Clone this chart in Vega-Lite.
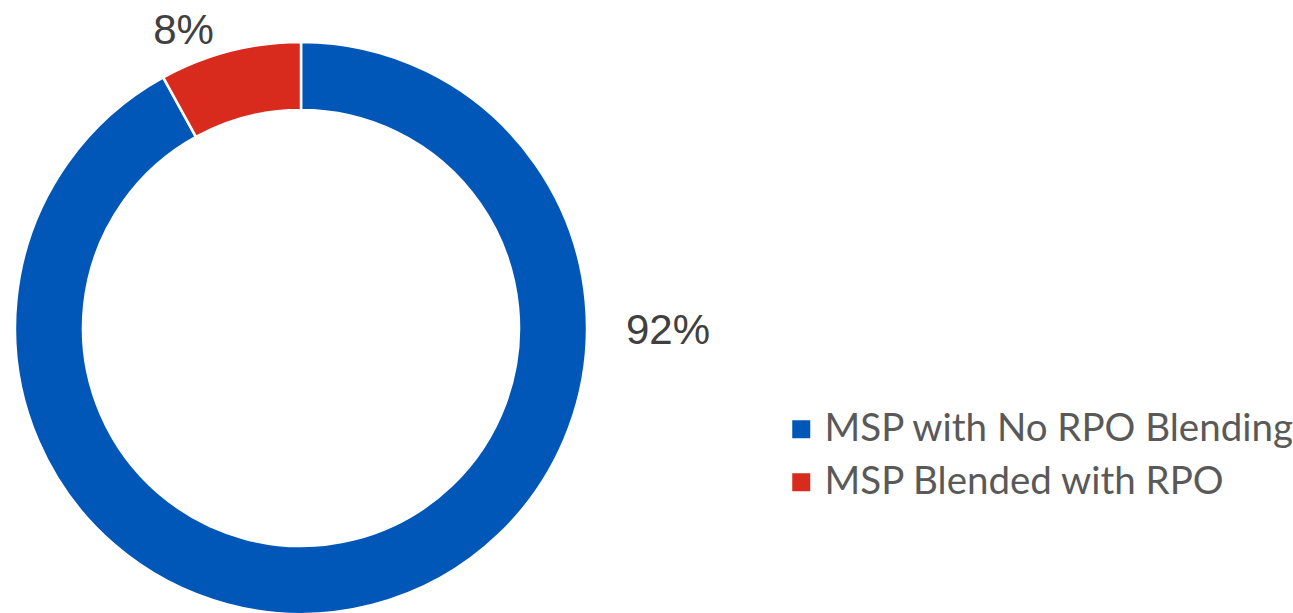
{
  "$schema": "https://vega.github.io/schema/vega-lite/v6.json",
  "autosize": "none",
  "width": 602,
  "height": 614,
  "padding": {"left": 0, "top": 21, "right": 691, "bottom": 0},
  "background": "white",
  "config": {"view": {"stroke": null}},
  "data": {"values": [
    {"category": "MSP with No RPO Blending", "value": 92, "label": "92%", "rank": 1},
    {"category": "MSP Blended with RPO", "value": 8, "label": "8%", "rank": 2}
  ]},
  "layer": [
    {
      "mark": {"type": "arc", "radius": 286, "radius2": 218, "stroke": "white", "strokeWidth": 2.5},
      "encoding": {
        "theta": {"field": "value", "type": "quantitative", "stack": true},
        "order": {"field": "rank", "type": "quantitative"},
        "color": {
          "field": "category", "type": "nominal",
          "scale": {"domain": ["MSP with No RPO Blending", "MSP Blended with RPO"], "range": ["#0057B8", "#D92A1E"]},
          "legend": {
            "title": null,
            "orient": "none",
            "legendX": 782,
            "legendY": 389,
            "padding": 0,
            "symbolType": "square",
            "symbolSize": 324,
            "symbolStrokeWidth": 0,
            "labelFont": "Lato",
            "labelFontSize": 38.5,
            "labelColor": "#595959",
            "labelLimit": 600,
            "labelOffset": 4,
            "rowPadding": 14
          }
        }
      }
    },
    {
      "transform": [{"filter": "datum.rank == 2"}],
      "mark": {"type": "text", "theta": -0.3768, "radius": 319.4, "font": "Liberation Sans", "fontSize": 42, "color": "#404040", "align": "center", "baseline": "middle"},
      "encoding": {"text": {"field": "label"}}
    },
    {
      "transform": [{"filter": "datum.rank == 1"}],
      "mark": {"type": "text", "theta": 1.5708, "radius": 367, "dy": 3, "font": "Liberation Sans", "fontSize": 42, "color": "#404040", "align": "center", "baseline": "middle"},
      "encoding": {"text": {"field": "label"}}
    }
  ]
}
